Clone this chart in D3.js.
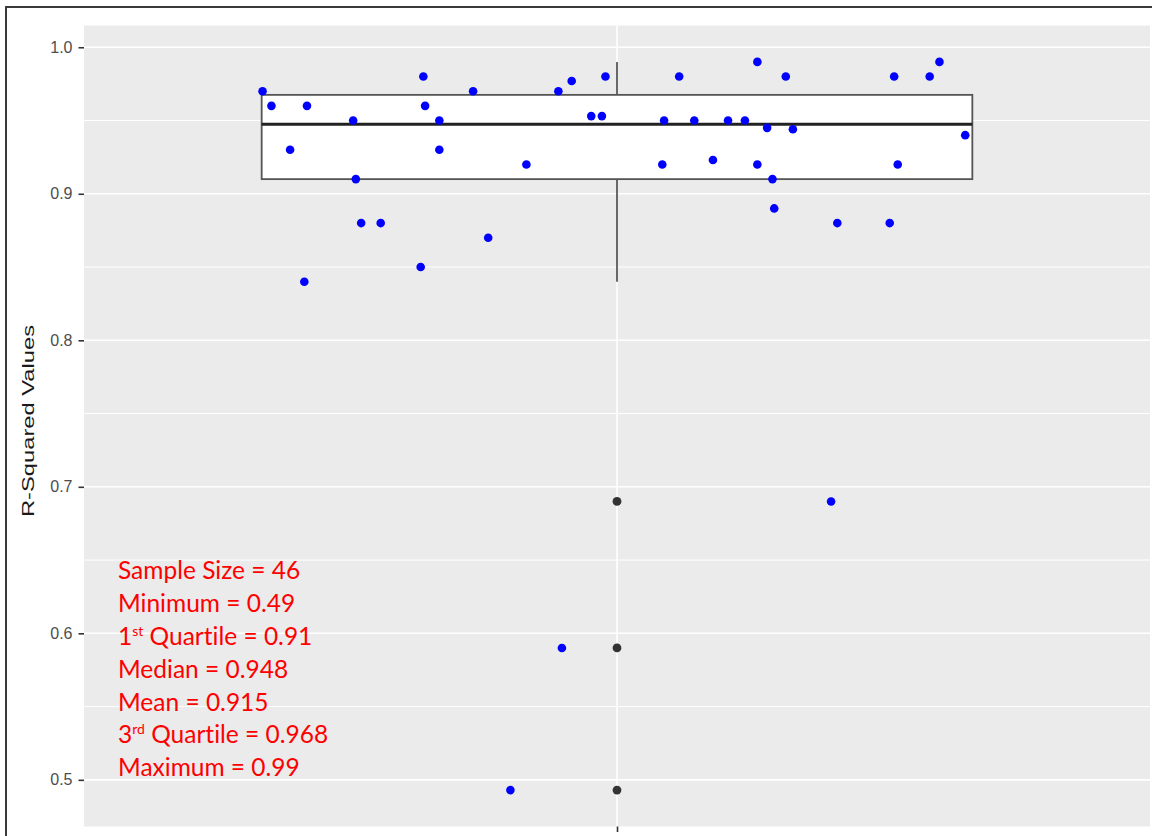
<!DOCTYPE html>
<html>
<head>
<meta charset="utf-8">
<script src="https://cdn.jsdelivr.net/npm/d3@7"></script>
<style>
  html, body { margin: 0; padding: 0; background: #ffffff; }
  svg { display: block; }
</style>
</head>
<body>
<svg id="chart" width="1152" height="836"></svg>
<script>
// R-squared value of each fitted model (one group, 46 models)
const rSquared = [
  0.97, 0.96, 0.96, 0.93, 0.84, 0.95, 0.91, 0.88, 0.88, 0.98,
  0.96, 0.95, 0.93, 0.85, 0.97, 0.87, 0.92, 0.97, 0.977, 0.953,
  0.953, 0.98, 0.98, 0.95, 0.92, 0.95, 0.923, 0.95, 0.95, 0.99,
  0.92, 0.945, 0.91, 0.89, 0.98, 0.944, 0.88, 0.88, 0.98, 0.92,
  0.98, 0.99, 0.94, 0.69, 0.59, 0.493
];
// horizontal jitter of each point, in category units around the group centre
const jitter = [
  -0.399, -0.389, -0.349, -0.368, -0.352, -0.297, -0.294, -0.288, -0.266, -0.218,
  -0.216, -0.200, -0.200, -0.221, -0.162, -0.145, -0.102, -0.066, -0.051, -0.029,
  -0.017, -0.013, 0.070, 0.053, 0.051, 0.087, 0.108, 0.125, 0.144, 0.158,
  0.158, 0.169, 0.175, 0.177, 0.190, 0.198, 0.248, 0.307, 0.312, 0.316,
  0.352, 0.363, 0.392, 0.241, -0.062, -0.120
];
const yTicks = [0.5, 0.6, 0.7, 0.8, 0.9, 1.0];
const yMinorTicks = [0.55, 0.65, 0.75, 0.85, 0.95];
const yTickLabels = ["0.5", "0.6", "0.7", "0.8", "0.9", "1.0"];
const yTitle = "R-Squared Values";
// summary text: each line is a list of runs, "sup" runs are superscripts
const summaryLines = [
  [{ t: "Sample Size = 46" }],
  [{ t: "Minimum = 0.49" }],
  [{ t: "1" }, { t: "st", sup: true }, { t: " Quartile = 0.91" }],
  [{ t: "Median = 0.948" }],
  [{ t: "Mean = 0.915" }],
  [{ t: "3" }, { t: "rd", sup: true }, { t: " Quartile = 0.968" }],
  [{ t: "Maximum = 0.99" }]
];

const svg = d3.select("#chart");
const panel = { left: 84, right: 1150, top: 25.5, bottom: 826.5 };

// frame around the figure
svg.append("path")
  .attr("d", "M6,836 L6,7 L1152,7")
  .attr("fill", "none").attr("stroke", "#3a3a3a").attr("stroke-width", 2);

// scales: one discrete group at x = 1, y expanded 5% past the data range
const x = d3.scaleLinear().domain([0.4, 1.6]).range([panel.left, panel.right]);
const [lo, hi] = d3.extent(rSquared);
const pad = (hi - lo) * 0.05;
const y = d3.scaleLinear().domain([lo - pad, hi + pad]).range([panel.bottom, panel.top]);

// panel background and grid
svg.append("rect")
  .attr("x", panel.left).attr("y", panel.top)
  .attr("width", panel.right - panel.left).attr("height", panel.bottom - panel.top)
  .attr("fill", "#ebebeb");

const grid = svg.append("g").attr("stroke", "#ffffff");
grid.selectAll("line.minor").data(yMinorTicks).join("line")
  .attr("class", "minor")
  .attr("x1", panel.left).attr("x2", panel.right)
  .attr("y1", d => y(d)).attr("y2", d => y(d))
  .attr("stroke-width", 1);
grid.selectAll("line.major").data(yTicks).join("line")
  .attr("class", "major")
  .attr("x1", panel.left).attr("x2", panel.right)
  .attr("y1", d => y(d)).attr("y2", d => y(d))
  .attr("stroke-width", 1.6);
grid.append("line")
  .attr("x1", x(1)).attr("x2", x(1))
  .attr("y1", panel.top).attr("y2", panel.bottom)
  .attr("stroke-width", 1.6);

// box plot statistics (Tukey whiskers at 1.5 IQR)
const sorted = rSquared.slice().sort(d3.ascending);
const q1 = d3.quantile(sorted, 0.25);
const med = d3.quantile(sorted, 0.5);
const q3 = d3.quantile(sorted, 0.75);
const iqr = q3 - q1;
const inside = sorted.filter(v => v >= q1 - 1.5 * iqr && v <= q3 + 1.5 * iqr);
const wLow = d3.min(inside), wHigh = d3.max(inside);
const outliers = sorted.filter(v => v < wLow || v > wHigh);

const boxW = 0.8;
const bp = svg.append("g");
bp.append("line")
  .attr("x1", x(1)).attr("x2", x(1)).attr("y1", y(wHigh)).attr("y2", y(q3))
  .attr("stroke", "#444").attr("stroke-width", 1.6);
bp.append("line")
  .attr("x1", x(1)).attr("x2", x(1)).attr("y1", y(q1)).attr("y2", y(wLow))
  .attr("stroke", "#444").attr("stroke-width", 1.6);
bp.append("rect")
  .attr("x", x(1 - boxW / 2)).attr("y", y(q3))
  .attr("width", x(1 + boxW / 2) - x(1 - boxW / 2)).attr("height", y(q1) - y(q3))
  .attr("fill", "#ffffff").attr("stroke", "#555").attr("stroke-width", 1.8);
bp.append("line")
  .attr("x1", x(1 - boxW / 2)).attr("x2", x(1 + boxW / 2))
  .attr("y1", y(med)).attr("y2", y(med))
  .attr("stroke", "#222").attr("stroke-width", 3);
bp.selectAll("circle").data(outliers).join("circle")
  .attr("cx", x(1)).attr("cy", d => y(d)).attr("r", 4.4)
  .attr("fill", "#333333");

// jittered observations
svg.append("g").selectAll("circle").data(rSquared).join("circle")
  .attr("cx", (d, i) => x(1 + jitter[i]))
  .attr("cy", d => y(d))
  .attr("r", 4.3)
  .attr("fill", "#0000ff");

// axes
const yAxis = svg.append("g")
  .attr("transform", `translate(${panel.left},0)`)
  .call(d3.axisLeft(y).tickValues(yTicks).tickFormat((d, i) => yTickLabels[i])
    .tickSize(5.5).tickPadding(6));
yAxis.select(".domain").remove();
yAxis.selectAll(".tick line").attr("stroke", "#333").attr("stroke-width", 1.6);
yAxis.selectAll(".tick text")
  .attr("fill", "#4d4d4d")
  .style("font-family", "'Liberation Sans', Arial, sans-serif")
  .style("font-size", "16px");

const xAxis = svg.append("g")
  .attr("transform", `translate(0,${panel.bottom})`)
  .call(d3.axisBottom(x).tickValues([1]).tickFormat(() => "").tickSize(5.5));
xAxis.select(".domain").remove();
xAxis.selectAll(".tick line").attr("stroke", "#333").attr("stroke-width", 1.6);

svg.append("text")
  .attr("transform", "translate(33.5,421) rotate(-90)")
  .attr("text-anchor", "middle")
  .attr("textLength", 192)
  .attr("lengthAdjust", "spacingAndGlyphs")
  .attr("fill", "#1a1a1a")
  .style("font-family", "'Liberation Sans', Arial, sans-serif")
  .style("font-size", "17px")
  .text(yTitle);

// summary statistics annotation
const note = svg.append("g")
  .attr("fill", "#ff0000")
  .style("font-family", "Lato, 'Noto Sans', sans-serif")
  .style("font-size", "24.5px")
  .style("font-variant-ligatures", "none");
summaryLines.forEach((runs, i) => {
  const t = note.append("text").attr("x", 118).attr("y", 579.3 + i * 32.8);
  runs.forEach(r => {
    const s = t.append("tspan").text(r.t);
    if (r.sup) s.attr("dy", -9).style("font-size", "14px");
    else if (t.selectAll("tspan").size() > 1) s.attr("dy", 9);
  });
});
</script>
</body>
</html>
